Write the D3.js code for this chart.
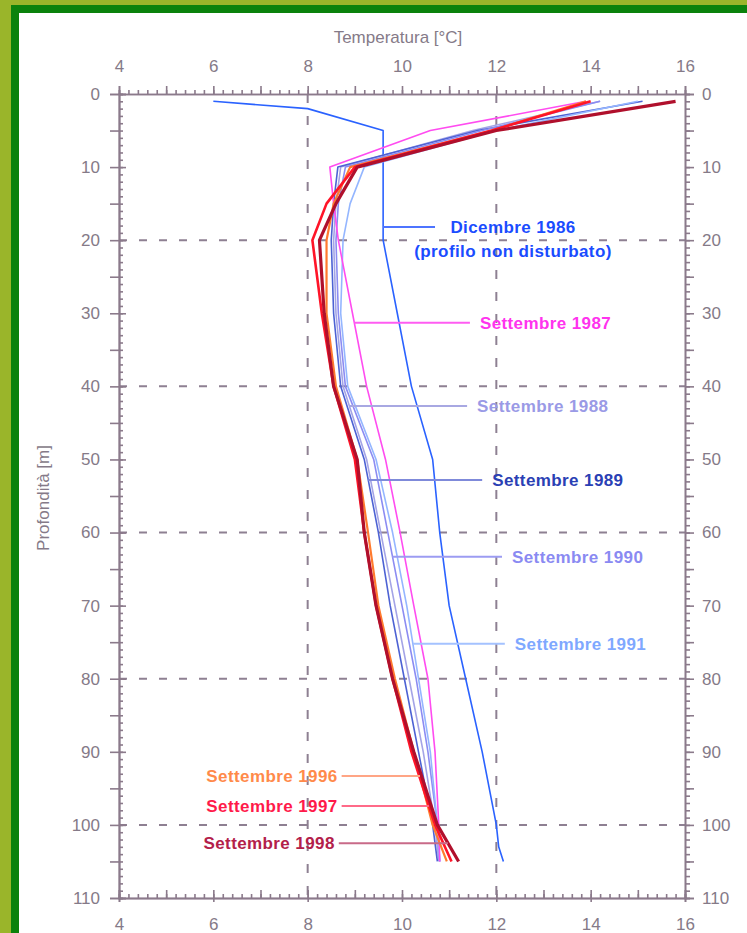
<!DOCTYPE html>
<html>
<head>
<meta charset="utf-8">
<script src="https://cdn.jsdelivr.net/npm/d3@7"></script>
<style>
  body { margin: 0; background: #9ab52a; }
  svg { display: block; }
  text { font-family: "Liberation Sans", Arial, sans-serif; }
  .tick-label { fill: #857a88; font-size: 17px; }
  .series-label { font-size: 17px; font-weight: bold; letter-spacing: 0.4px; }
</style>
</head>
<body>
<svg id="chart" width="747" height="933"></svg>
<script>
// temperature profiles, depth in m, temperature in °C
var tempTicks = [4, 6, 8, 10, 12, 14, 16],
    depthTicks = [0, 10, 20, 30, 40, 50, 60, 70, 80, 90, 100, 110],
    gridTemps = [8, 12],
    gridDepths = [20, 40, 60, 80, 100];

var dic1986Depths = [1, 2, 5, 20, 30, 40, 50, 60, 70, 80, 90, 100, 103, 105],
    dic1986 = [6.0, 8.0, 9.6, 9.6, 9.9, 10.2, 10.65, 10.8, 11.0, 11.35, 11.7, 12.0, 12.05, 12.15];

var settDepths = [1, 5, 10, 15, 20, 30, 40, 50, 60, 70, 80, 90, 100, 105],
    sett1987 = [13.9, 10.6, 8.47, 8.55, 8.65, 8.95, 9.25, 9.65, 9.96, 10.25, 10.55, 10.7, 10.78, 10.8],
    sett1988 = [14.2, 11.5, 8.7, 8.6, 8.55, 8.6, 8.75, 9.25, 9.55, 9.85, 10.15, 10.45, 10.7, 10.78],
    sett1989 = [15.1, 11.6, 8.64, 8.55, 8.5, 8.55, 8.7, 9.2, 9.5, 9.75, 10.05, 10.35, 10.65, 10.75],
    sett1990 = [14.2, 11.7, 8.8, 8.65, 8.6, 8.65, 8.8, 9.4, 9.7, 10.0, 10.3, 10.55, 10.75, 10.8],
    sett1991 = [15.0, 12.0, 9.2, 8.9, 8.75, 8.7, 8.85, 9.45, 9.8, 10.1, 10.35, 10.6, 10.75, 10.8],
    sett1996 = [13.9, 11.9, 8.9, 8.55, 8.4, 8.4, 8.6, 9.05, 9.28, 9.5, 9.85, 10.25, 10.65, 10.95],
    sett1997 = [14.0, 11.9, 9.0, 8.4, 8.1, 8.3, 8.55, 9.0, 9.2, 9.45, 9.8, 10.2, 10.7, 11.05],
    sett1998 = [15.8, 12.0, 9.05, 8.6, 8.25, 8.35, 8.55, 9.05, 9.2, 9.45, 9.8, 10.25, 10.75, 11.2];

var series = [
  {name: "Dicembre 1986", depths: dic1986Depths, temps: dic1986, color: "#2a62ff", width: 1.6},
  {name: "Settembre 1988", depths: settDepths, temps: sett1988, color: "#a4a4e6", width: 1.6},
  {name: "Settembre 1989", depths: settDepths, temps: sett1989, color: "#4d62d4", width: 1.6},
  {name: "Settembre 1990", depths: settDepths, temps: sett1990, color: "#8c8cf2", width: 1.6},
  {name: "Settembre 1991", depths: settDepths, temps: sett1991, color: "#94b6ff", width: 1.6},
  {name: "Settembre 1987", depths: settDepths, temps: sett1987, color: "#ff4cf0", width: 1.6},
  {name: "Settembre 1996", depths: settDepths, temps: sett1996, color: "#ff7a2e", width: 2.2},
  {name: "Settembre 1997", depths: settDepths, temps: sett1997, color: "#ff1428", width: 2.6},
  {name: "Settembre 1998", depths: settDepths, temps: sett1998, color: "#b0102c", width: 3.2}
];

// label placement: depth of the leader line, temperature where the leader meets the text
var labels = [
  {name: "Dicembre 1986", depth: 18.2, end: 10.7, side: "right", text: ["Dicembre 1986", "(profilo non disturbato)"], color: "#1a4cff", line: "#4d74ff"},
  {name: "Settembre 1987", depth: 31.3, end: 11.44, side: "right", color: "#ff33ee", line: "#ff5cf2"},
  {name: "Settembre 1988", depth: 42.7, end: 11.38, side: "right", color: "#9a9ae6", line: "#a8a8e2"},
  {name: "Settembre 1989", depth: 52.8, end: 11.7, side: "right", color: "#2a40b4", line: "#7f8ada"},
  {name: "Settembre 1990", depth: 63.3, end: 12.12, side: "right", color: "#8a8af2", line: "#9c9cf2"},
  {name: "Settembre 1991", depth: 75.2, end: 12.18, side: "right", color: "#7fa8ff", line: "#a4c2ff"},
  {name: "Settembre 1996", depth: 93.3, end: 8.72, side: "left", color: "#ff8a4a", line: "#ffa585"},
  {name: "Settembre 1997", depth: 97.4, end: 8.72, side: "left", color: "#ff1a4a", line: "#ff6a88"},
  {name: "Settembre 1998", depth: 102.5, end: 8.66, side: "left", color: "#b3204a", line: "#c86a88"}
];

var svg = d3.select("#chart"),
    axisColor = "#8b7a8b",
    x = d3.scaleLinear().domain([4, 16]).range([119, 685]),
    y = d3.scaleLinear().domain([0, 110]).range([94, 898]);

// frame
svg.append("rect").attr("width", 747).attr("height", 933).attr("fill", "#9ab52a");
svg.append("rect").attr("x", 11).attr("y", 5).attr("width", 760).attr("height", 960).attr("fill", "#0b820c");
svg.append("rect").attr("x", 19).attr("y", 13).attr("width", 760).attr("height", 960).attr("fill", "#fff");

// dashed grid
var grid = svg.append("g").attr("stroke", "#8e8092").attr("stroke-width", 2);
grid.selectAll(".gx").data(gridTemps).enter().append("line")
    .attr("x1", x).attr("x2", x).attr("y1", y(0)).attr("y2", y(110))
    .attr("stroke-dasharray", "9,13");
grid.selectAll(".gy").data(gridDepths).enter().append("line")
    .attr("y1", y).attr("y2", y).attr("x1", x(4)).attr("x2", x(16))
    .attr("stroke-dasharray", "8,12");

function styleAxis(g) {
  g.selectAll("path, line").attr("stroke", axisColor).attr("stroke-width", 1.6);
  g.selectAll("text").attr("class", "tick-label").attr("fill", null);
  g.attr("font-family", null).attr("font-size", null);
}

var minorTemps = d3.range(0, 61).map(function(i) { return 4 + i * 0.2; }),
    intTemps = d3.range(4, 17),
    minorDepths = d3.range(0, 111),
    fiveDepths = d3.range(0, 111, 5);

// top axis
svg.append("g").attr("transform", "translate(0," + y(0) + ")")
  .call(d3.axisTop(x).tickValues(minorTemps).tickSize(4).tickFormat(""))
  .call(styleAxis);
svg.append("g").attr("transform", "translate(0," + y(0) + ")")
  .call(d3.axisTop(x).tickValues(intTemps).tickSize(8).tickFormat(""))
  .call(styleAxis);
svg.append("g").attr("transform", "translate(0," + y(0) + ")")
  .call(d3.axisTop(x).tickValues(tempTicks).tickSize(0).tickPadding(22).tickFormat(d3.format("d")))
  .call(styleAxis).select(".domain").remove();

// bottom axis
svg.append("g").attr("transform", "translate(0," + y(110) + ")")
  .call(d3.axisBottom(x).tickValues(minorTemps).tickSize(-4).tickFormat(""))
  .call(styleAxis);
svg.append("g").attr("transform", "translate(0," + y(110) + ")")
  .call(d3.axisBottom(x).tickValues(intTemps).tickSize(-8).tickFormat(""))
  .call(styleAxis);
svg.append("g").attr("transform", "translate(0," + y(110) + ")")
  .call(d3.axisBottom(x).tickValues(tempTicks).tickSize(4).tickPadding(16).tickFormat(d3.format("d")))
  .call(styleAxis);

// left axis
svg.append("g").attr("transform", "translate(" + x(4) + ",0)")
  .call(d3.axisLeft(y).tickValues(minorDepths).tickSize(-4).tickFormat(""))
  .call(styleAxis);
svg.append("g").attr("transform", "translate(" + x(4) + ",0)")
  .call(d3.axisLeft(y).tickValues(depthTicks).tickSize(-7).tickFormat(""))
  .call(styleAxis);
svg.append("g").attr("transform", "translate(" + x(4) + ",0)")
  .call(d3.axisLeft(y).tickValues(fiveDepths).tickSize(9).tickFormat(""))
  .call(styleAxis);
svg.append("g").attr("transform", "translate(" + x(4) + ",0)")
  .call(d3.axisLeft(y).tickValues(depthTicks).tickSize(0).tickPadding(19).tickFormat(d3.format("d")))
  .call(styleAxis).select(".domain").remove();

// right axis
svg.append("g").attr("transform", "translate(" + x(16) + ",0)")
  .call(d3.axisRight(y).tickValues(minorDepths).tickSize(5).tickFormat(""))
  .call(styleAxis);
svg.append("g").attr("transform", "translate(" + x(16) + ",0)")
  .call(d3.axisRight(y).tickValues(fiveDepths).tickSize(9).tickFormat(""))
  .call(styleAxis);
svg.append("g").attr("transform", "translate(" + x(16) + ",0)")
  .call(d3.axisRight(y).tickValues(depthTicks).tickSize(0).tickPadding(17).tickFormat(d3.format("d")))
  .call(styleAxis).select(".domain").remove();

// axis titles
svg.append("text").attr("class", "tick-label")
    .attr("x", 398).attr("y", 43).attr("text-anchor", "middle")
    .text("Temperatura [°C]");
svg.append("text").attr("class", "tick-label")
    .attr("transform", "translate(49,498) rotate(-90)").attr("text-anchor", "middle")
    .text("Profondità [m]");

// profiles
var line = d3.line()
    .x(function(d) { return x(d[1]); })
    .y(function(d) { return y(d[0]); });

svg.append("g").selectAll("path").data(series).enter().append("path")
    .attr("fill", "none")
    .attr("stroke", function(d) { return d.color; })
    .attr("stroke-width", function(d) { return d.width; })
    .attr("stroke-linejoin", "round")
    .attr("d", function(d) { return line(d3.zip(d.depths, d.temps)); });

// labels with leader lines
var byName = {};
series.forEach(function(s) { byName[s.name] = s; });

labels.forEach(function(l) {
  var s = byName[l.name],
      at = d3.scaleLinear().domain(s.depths).range(s.temps),
      yy = y(l.depth),
      x0 = x(at(l.depth)),
      x1 = x(l.end);
  svg.append("line")
      .attr("x1", x0).attr("x2", x1).attr("y1", yy).attr("y2", yy)
      .attr("stroke", l.line).attr("stroke-width", 2);
  var lines = l.text || [l.name];
  if (lines.length > 1) {
    lines.forEach(function(t, i) {
      svg.append("text").attr("class", "series-label")
          .attr("x", 513).attr("y", yy + 6 + i * 24)
          .attr("text-anchor", "middle").attr("fill", l.color).text(t);
    });
  } else {
    svg.append("text").attr("class", "series-label")
        .attr("x", l.side === "right" ? x1 + 10 : x1 - 4)
        .attr("y", yy + 6)
        .attr("text-anchor", l.side === "right" ? "start" : "end")
        .attr("fill", l.color).text(lines[0]);
  }
});
</script>
</body>
</html>
